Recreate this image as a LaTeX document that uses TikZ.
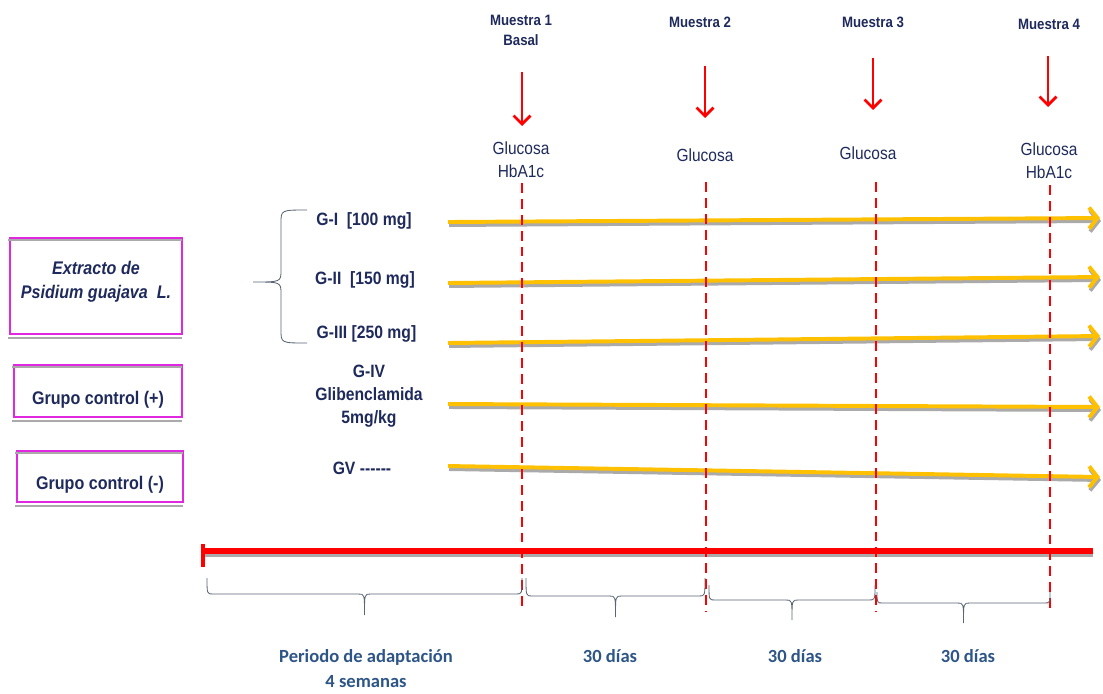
\documentclass[tikz,border=0pt]{standalone}
\usepackage{fontspec}
\setmainfont{Liberation Sans}[FakeStretch=0.88]
\newfontfamily\calib{Carlito}
\usetikzlibrary{arrows.meta}
\definecolor{navy}{RGB}{31,42,92}
\definecolor{steel}{RGB}{45,85,135}
\definecolor{gold}{RGB}{255,192,0}
\definecolor{mag}{RGB}{225,40,225}
\definecolor{shgray}{RGB}{170,170,170}
\definecolor{brgray}{RGB}{90,100,115}
\newcommand\hbr[5]{%
  \pgfmathsetmacro\xm{(#1+#2)/2}%
  \draw[brc] (#1,#3) .. controls (#1,#4) .. (#1+6,#4) -- (\xm-6,#4)
    .. controls (\xm,#4) .. (\xm,#5) .. controls (\xm,#4) .. (\xm+6,#4)
    -- (#2-6,#4) .. controls (#2,#4) .. (#2,#3);}
\begin{document}
\begin{tikzpicture}[x=0.025cm,y=-0.025cm,
  lab/.style={text=navy,font=\bfseries\fontsize{12.7}{16.6}\selectfont,align=center,inner sep=0pt},
  boxtxt/.style={text=navy,font=\bfseries\fontsize{13}{17}\selectfont,align=center,inner sep=0pt},
  mue/.style={text=navy,font=\bfseries\fontsize{10.7}{14.2}\selectfont,align=center,inner sep=0pt},
  glu/.style={text=navy,font=\fontsize{12.5}{16.3}\selectfont,align=center,inner sep=0pt},
  per/.style={text=steel,font=\calib\bfseries\fontsize{13.2}{17.7}\selectfont,align=center,inner sep=0pt},
  grpbox/.style={draw=mag,line width=1.2pt,inner sep=0pt},
  brc/.style={draw=brgray,line width=0.6pt},
  yarr/.style={draw=gold,line width=2.8pt,-{Straight Barb[length=6pt,width=15pt]}},
  yshad/.style={draw=shgray,line width=2.8pt,-{Straight Barb[length=6pt,width=15pt]}},
  rarr/.style={draw=red,line width=2pt,-{Straight Barb[length=6pt,width=12pt]}},
  vdash/.style={draw=red,line width=1.4pt,dash pattern=on 7pt off 4.3pt},
]
\useasboundingbox (0,0) rectangle (1103,693);

% ---- left boxes ----
\node[grpbox,minimum width=4.3cm,minimum height=2.4cm] (box1) at (96,286) {};
\node[grpbox,minimum width=4.2cm,minimum height=1.3cm] (box2) at (98,391) {};
\node[grpbox,minimum width=4.15cm,minimum height=1.28cm] (box3) at (100,476.5) {};
\foreach \b in {box1,box2,box3}{
  \draw[draw=shgray,line width=1pt] ([shift={(-1,3)}]\b.north west) -- ([shift={(-1,3)}]\b.north east);
  \draw[draw=shgray,line width=1pt] ([shift={(-1,3)}]\b.south west) -- ([shift={(-1,3)}]\b.south east);
}
\node[boxtxt,font=\bfseries\itshape\fontsize{13}{17}\selectfont] (t1) at (96,282) {Extracto de\\Psidium guajava~ L.};
\node[boxtxt] (t2) at (98,400) {Grupo control (+)};
\node[boxtxt] (t3) at (100,485) {Grupo control (-)};

% ---- group labels ----
\node[lab] (g1) at (364,221) {G-I~ [100 mg]};
\node[lab] (g2) at (365,280) {G-II~ [150 mg]};
\node[lab] (g3) at (366.5,334) {G-III [250 mg]};
\node[lab] (g4) at (369,396) {G-IV\\Glibenclamida\\5mg/kg};
\node[lab] (g5) at (362,468) {GV -{}-{}-{}-{}-{}-};

% left curly brace
\draw[brc] (307,210) .. controls (281,210) .. (281,223) -- (281,270)
  .. controls (281,282) .. (253,282) .. controls (281,282) .. (281,294)
  -- (281,330) .. controls (281,343) .. (307,343);

% ---- yellow arrows ----
\foreach \ya/\yb [count=\i] in {222/218,283/277,343/336,404/407,466/477}{
  \coordinate (ys\i) at (448,\ya);
  \coordinate (ye\i) at (1100,\yb);
  \draw[yshad] ([shift={(1,3)}]ys\i) -- ([shift={(1,3)}]ye\i);
  \draw[yarr] (ys\i) -- (ye\i);
}

% ---- timeline ----
\coordinate (tl0) at (203,551);
\coordinate (tl1) at (1093,551);
\draw[draw=shgray,line width=3.6pt] ([shift={(0,3)}]tl0) -- ([shift={(0,3)}]tl1);
\draw[red,line width=3.6pt] (tl0) -- (tl1);
\draw[red,line width=2.2pt] (203,544) -- (203,567);

% ---- dashed verticals ----
\coordinate (d1a) at (522,183); \coordinate (d1b) at (522,612);
\coordinate (d2a) at (706,182); \coordinate (d2b) at (706,612);
\coordinate (d3a) at (876,182); \coordinate (d3b) at (876,612);
\coordinate (d4a) at (1050,185); \coordinate (d4b) at (1050,612);
\foreach \i in {1,2,3,4}{ \draw[vdash] (d\i a) -- (d\i b); }

% ---- sample labels ----
\node[mue] (m1) at (521,30) {Muestra 1\\Basal};
\node[mue] (m2) at (700,22) {Muestra 2};
\node[mue] (m3) at (873,22) {Muestra 3};
\node[mue] (m4) at (1049,24) {Muestra 4};

\coordinate (a1s) at (522,72);  \coordinate (a1e) at (522,126);
\coordinate (a2s) at (705,66);  \coordinate (a2e) at (705,118);
\coordinate (a3s) at (873,58);  \coordinate (a3e) at (873,110);
\coordinate (a4s) at (1048,56); \coordinate (a4e) at (1048,107);
\foreach \i in {1,2,3,4}{ \draw[rarr] (a\i s) -- (a\i e); }

\node[glu] (r1) at (521,159.5) {Glucosa\\HbA1c};
\node[glu] (r2) at (705,155) {Glucosa};
\node[glu] (r3) at (868,153) {Glucosa};
\node[glu] (r4) at (1049,160.5) {Glucosa\\HbA1c};

% ---- bottom braces ----
\hbr{207}{522}{578}{594}{615}
\hbr{526}{705}{578}{596}{617}
\hbr{709}{875}{585}{600}{620}
\hbr{877}{1050}{592}{603}{623}

% ---- period labels ----
\node[per] (p1) at (366,668.5) {Periodo de adaptación\\4 semanas};
\node[per] (p2) at (610,656) {30 días};
\node[per] (p3) at (795,656) {30 días};
\node[per] (p4) at (968,656) {30 días};
\end{tikzpicture}
\end{document}
